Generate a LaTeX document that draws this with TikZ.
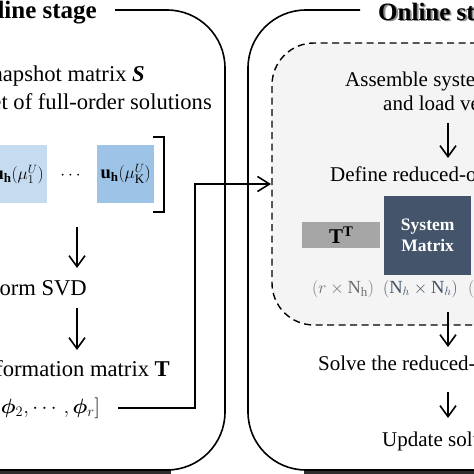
\documentclass[tikz,border=0pt]{standalone}
\usepackage{amsmath,bm}
\usepackage{fontspec}
\setmainfont{Liberation Serif}
\usetikzlibrary{arrows.meta}
\definecolor{slate}{HTML}{44546A}
\definecolor{lblue}{HTML}{C5DCF0}
\definecolor{mblue}{HTML}{9DC3E6}
\definecolor{tgray}{HTML}{A6A6A6}
\definecolor{lgray}{HTML}{F4F4F4}
\definecolor{lbl}{HTML}{6F6F6F}
\begin{document}
\begin{tikzpicture}[x=1pt,y=-1pt,
  frame/.style={line width=1.6pt},
  flowarrow/.style={line width=1.6pt,-{Straight Barb[length=11pt,width=16pt]}},
  ltext/.style={font=\fontsize{22.6}{26}\selectfont, inner sep=0pt},
  rtext/.style={font=\fontsize{21}{25}\selectfont, inner sep=0pt},
  title/.style={font=\bfseries\fontsize{25}{30}\selectfont, inner sep=0pt},
  colbox/.style={minimum width=57pt, minimum height=58pt, inner sep=0pt, anchor=north west, font=\fontsize{18.5}{22}\selectfont},
  dimlabel/.style={font=\fontsize{18.5}{22}\selectfont, inner sep=0pt, anchor=base west}]
\useasboundingbox (0,0) rectangle (474,474);
\clip (0,0) rectangle (474,474);
\fill[white] (0,0) rectangle (474,474);

% titles
\node[title, anchor=base east] (offt) at (97,18.5) {Offline stage};
\node[title, anchor=base west, text=black!45] (onts) at (379.8,21.8) {Online stage};
\node[title, anchor=base west] (ont) at (378,20) {Online stage};

% bottom shadows
\fill[black!82] (-5,469.5) rectangle (171,474);
\fill[black!82] (304,469.5) rectangle (480,474);

% outer frames
\draw[frame, rounded corners=58pt] (115,10) -- (225,10) -- (225,470) -- (-20,470);
\draw[frame, rounded corners=58pt] (360,10) -- (248,10) -- (248,470) -- (500,470);

% dashed inner frame
\draw[line width=1.4pt, dash pattern=on 7pt off 4.5pt, fill=lgray, rounded corners=42pt]
  (500,43) -- (272,43) -- (272,325) -- (500,325);
\coordinate (dashin) at (271,184);

% offline column
\node[ltext, anchor=base east] (snap) at (145,81.5) {Snapshot matrix \textbf{\textit{S}}};
\node[ltext, anchor=base east] (setfo) at (212,109) {Set of full-order solutions};
\node[colbox, fill=lblue] (u1) at (-10,145) {$\mathbf{u}_{\mathbf{h}}(\mu_1^U)$};
\node[inner sep=0pt, font=\fontsize{18}{20}\selectfont] (dots) at (72,176) {$\cdots$};
\node[colbox, fill=mblue] (uK) at (97,145) {$\mathbf{u}_{\mathbf{h}}(\mu_{\mathrm{K}}^U)$};
\draw[line width=1.4pt] (153,137) -- (164,137) -- (164,212) -- (153,212);

\coordinate (a1s) at (77,227);
\coordinate (a1e) at (77,268);
\draw[flowarrow] (a1s) -- (a1e);
\node[ltext, anchor=base east] (svd) at (87,295) {Perform SVD};
\coordinate (a2s) at (77,308);
\coordinate (a2e) at (77,350);
\draw[flowarrow] (a2s) -- (a2e);
\node[ltext, anchor=base east] (tm) at (170,376.5) {Transformation matrix \textbf{T}};
\node[ltext, anchor=east, font=\fontsize{21}{25}\selectfont] (phi) at (100,408) {$[\bm{\phi}_1, \bm{\phi}_2, \cdots, \bm{\phi}_r]$};

% connector
\draw[line width=1.6pt, -{Straight Barb[length=12pt,width=15pt]}]
  ([xshift=18pt]phi.east) -- (195,408) -- (195,184) -- (dashin);

% online column
\node[rtext, anchor=base west] (asm) at (345,86) {Assemble system matrix};
\node[rtext, anchor=base west] (load) at (383,110.5) {and load vector};
\coordinate (b1s) at (448,123);
\coordinate (b1e) at (448,158);
\draw[flowarrow] (b1s) -- (b1e);
\node[rtext, anchor=base west] (def) at (330,181.5) {Define reduced-order model};
\node[fill=tgray, minimum width=78pt, minimum height=26pt, inner sep=0pt, anchor=north west,
  font=\fontsize{21}{24}\selectfont] (tt) at (302,222) {\textbf{T}$^{\mathbf{T}}$};
\node[fill=slate, text=white, font=\bfseries\fontsize{17.5}{21}\selectfont, align=center,
  minimum width=87pt, minimum height=79pt, inner sep=0pt, anchor=north west] (sysm) at (384,196) {System\\Matrix};
\node[dimlabel, text=lbl] (l1) at (312,293) {$(r\times\mathrm{N_h})$};
\node[dimlabel, text=slate] (l2) at (383,293) {$(\mathrm{N}_h\times\mathrm{N}_h)$};
\node[dimlabel, text=lbl] (l3) at (468,293) {$($};
\coordinate (b2s) at (448,312);
\coordinate (b2e) at (448,347);
\draw[flowarrow] (b2s) -- (b2e);
\node[rtext, anchor=base west] (solve) at (318,370) {Solve the reduced-order system};
\coordinate (b3s) at (448,392);
\coordinate (b3e) at (448,418);
\draw[flowarrow] (b3s) -- (b3e);
\node[rtext, anchor=base west] (upd) at (382,446.5) {Update solution};
\end{tikzpicture}
\end{document}
